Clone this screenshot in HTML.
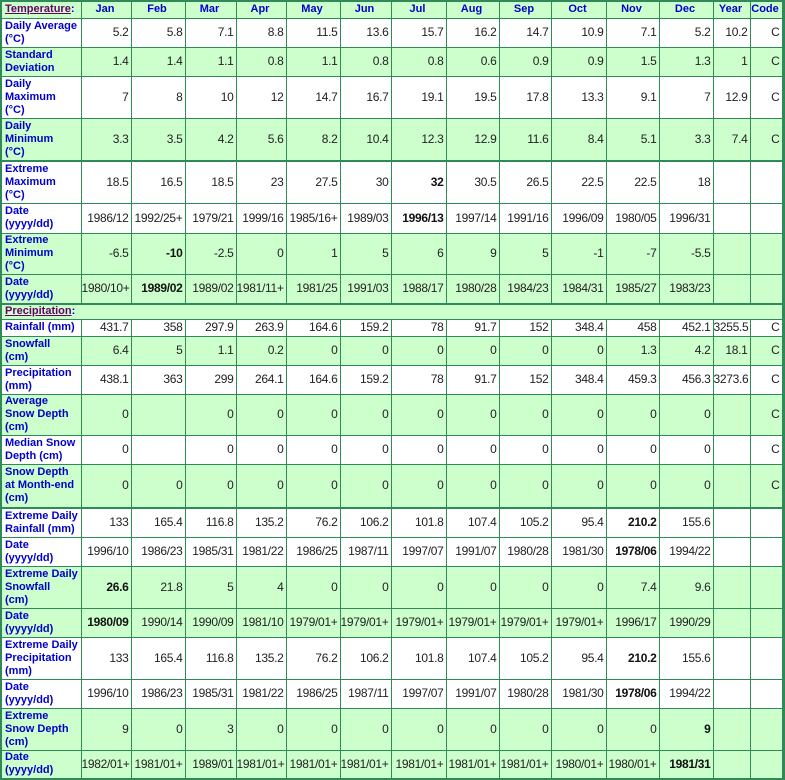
<!DOCTYPE html>
<html><head><meta charset="utf-8"><style>
body{margin:0;background:#fff;}
table{border-collapse:collapse;table-layout:fixed;width:782px;font-family:"Liberation Sans",sans-serif;font-size:12px;letter-spacing:-0.3px;border:2px solid #2e8b57;border-right:3px solid #2e8b57;}
td{border:1px solid #2e8b57;padding:0 2px 0 0;text-align:right;color:#222;overflow:hidden;white-space:nowrap;line-height:13px;}
td.l{text-align:left;color:#0000cc;font-weight:bold;font-size:11px;white-space:nowrap;line-height:13px;padding:0 0 0 3px;letter-spacing:0px;}
tr.g td{background:#ccffcc;}
tr.h td{text-align:center;color:#0000cc;font-weight:bold;font-size:11px;letter-spacing:0;background:#ccffcc;}
tr.h td.s{text-align:left;padding-left:3px;}
.s a{color:#660066;text-decoration:underline;}
tr.t td{border-top:2px solid #2e8b57;}
b{color:#111;}
</style></head><body>
<table>
<colgroup><col style="width:80px"><col style="width:50px"><col style="width:54px"><col style="width:51px"><col style="width:50px"><col style="width:54px"><col style="width:51px"><col style="width:55px"><col style="width:53px"><col style="width:52px"><col style="width:55px"><col style="width:53px"><col style="width:54px"><col style="width:37px"><col style="width:33px"></colgroup>
<tr class="h" style="height:17px"><td class="s"><a>Temperature</a>:</td><td>Jan</td><td>Feb</td><td>Mar</td><td>Apr</td><td>May</td><td>Jun</td><td>Jul</td><td>Aug</td><td>Sep</td><td>Oct</td><td>Nov</td><td>Dec</td><td>Year</td><td>Code</td></tr>
<tr style="height:29px"><td class="l">Daily Average<br>(°C)</td><td>5.2</td><td>5.8</td><td>7.1</td><td>8.8</td><td>11.5</td><td>13.6</td><td>15.7</td><td>16.2</td><td>14.7</td><td>10.9</td><td>7.1</td><td>5.2</td><td>10.2</td><td>C</td></tr>
<tr class="g" style="height:29px"><td class="l">Standard<br>Deviation</td><td>1.4</td><td>1.4</td><td>1.1</td><td>0.8</td><td>1.1</td><td>0.8</td><td>0.8</td><td>0.6</td><td>0.9</td><td>0.9</td><td>1.5</td><td>1.3</td><td>1</td><td>C</td></tr>
<tr style="height:42px"><td class="l">Daily<br>Maximum<br>(°C)</td><td>7</td><td>8</td><td>10</td><td>12</td><td>14.7</td><td>16.7</td><td>19.1</td><td>19.5</td><td>17.8</td><td>13.3</td><td>9.1</td><td>7</td><td>12.9</td><td>C</td></tr>
<tr class="g" style="height:43px"><td class="l">Daily<br>Minimum<br>(°C)</td><td>3.3</td><td>3.5</td><td>4.2</td><td>5.6</td><td>8.2</td><td>10.4</td><td>12.3</td><td>12.9</td><td>11.6</td><td>8.4</td><td>5.1</td><td>3.3</td><td>7.4</td><td>C</td></tr>
<tr class="t" style="height:42px"><td class="l">Extreme<br>Maximum<br>(°C)</td><td>18.5</td><td>16.5</td><td>18.5</td><td>23</td><td>27.5</td><td>30</td><td><b>32</b></td><td>30.5</td><td>26.5</td><td>22.5</td><td>22.5</td><td>18</td><td></td><td></td></tr>
<tr style="height:30px"><td class="l">Date<br>(yyyy/dd)</td><td>1986/12</td><td>1992/25+</td><td>1979/21</td><td>1999/16</td><td>1985/16+</td><td>1989/03</td><td><b>1996/13</b></td><td>1997/14</td><td>1991/16</td><td>1996/09</td><td>1980/05</td><td>1996/31</td><td></td><td></td></tr>
<tr class="g" style="height:41px"><td class="l">Extreme<br>Minimum<br>(°C)</td><td>-6.5</td><td><b>-10</b></td><td>-2.5</td><td>0</td><td>1</td><td>5</td><td>6</td><td>9</td><td>5</td><td>-1</td><td>-7</td><td>-5.5</td><td></td><td></td></tr>
<tr class="g" style="height:30px"><td class="l">Date<br>(yyyy/dd)</td><td>1980/10+</td><td><b>1989/02</b></td><td>1989/02</td><td>1981/11+</td><td>1981/25</td><td>1991/03</td><td>1988/17</td><td>1980/28</td><td>1984/23</td><td>1984/31</td><td>1985/27</td><td>1983/23</td><td></td><td></td></tr>
<tr class="h t" style="height:15px"><td class="s" colspan="15"><a>Precipitation</a>:</td></tr>
<tr style="height:17px"><td class="l">Rainfall (mm)</td><td>431.7</td><td>358</td><td>297.9</td><td>263.9</td><td>164.6</td><td>159.2</td><td>78</td><td>91.7</td><td>152</td><td>348.4</td><td>458</td><td>452.1</td><td>3255.5</td><td>C</td></tr>
<tr class="g" style="height:29px"><td class="l">Snowfall<br>(cm)</td><td>6.4</td><td>5</td><td>1.1</td><td>0.2</td><td>0</td><td>0</td><td>0</td><td>0</td><td>0</td><td>0</td><td>1.3</td><td>4.2</td><td>18.1</td><td>C</td></tr>
<tr style="height:29px"><td class="l">Precipitation<br>(mm)</td><td>438.1</td><td>363</td><td>299</td><td>264.1</td><td>164.6</td><td>159.2</td><td>78</td><td>91.7</td><td>152</td><td>348.4</td><td>459.3</td><td>456.3</td><td>3273.6</td><td>C</td></tr>
<tr class="g" style="height:41px"><td class="l">Average<br>Snow Depth<br>(cm)</td><td>0</td><td></td><td>0</td><td>0</td><td>0</td><td>0</td><td>0</td><td>0</td><td>0</td><td>0</td><td>0</td><td>0</td><td></td><td>C</td></tr>
<tr style="height:29px"><td class="l">Median Snow<br>Depth (cm)</td><td>0</td><td></td><td>0</td><td>0</td><td>0</td><td>0</td><td>0</td><td>0</td><td>0</td><td>0</td><td>0</td><td>0</td><td></td><td>C</td></tr>
<tr class="g" style="height:44px"><td class="l">Snow Depth<br>at Month-end<br>(cm)</td><td>0</td><td>0</td><td>0</td><td>0</td><td>0</td><td>0</td><td>0</td><td>0</td><td>0</td><td>0</td><td>0</td><td>0</td><td></td><td>C</td></tr>
<tr class="t" style="height:29px"><td class="l">Extreme Daily<br>Rainfall (mm)</td><td>133</td><td>165.4</td><td>116.8</td><td>135.2</td><td>76.2</td><td>106.2</td><td>101.8</td><td>107.4</td><td>105.2</td><td>95.4</td><td><b>210.2</b></td><td>155.6</td><td></td><td></td></tr>
<tr style="height:29px"><td class="l">Date<br>(yyyy/dd)</td><td>1996/10</td><td>1986/23</td><td>1985/31</td><td>1981/22</td><td>1986/25</td><td>1987/11</td><td>1997/07</td><td>1991/07</td><td>1980/28</td><td>1981/30</td><td><b>1978/06</b></td><td>1994/22</td><td></td><td></td></tr>
<tr class="g" style="height:42px"><td class="l">Extreme Daily<br>Snowfall<br>(cm)</td><td><b>26.6</b></td><td>21.8</td><td>5</td><td>4</td><td>0</td><td>0</td><td>0</td><td>0</td><td>0</td><td>0</td><td>7.4</td><td>9.6</td><td></td><td></td></tr>
<tr class="g" style="height:29px"><td class="l">Date<br>(yyyy/dd)</td><td><b>1980/09</b></td><td>1990/14</td><td>1990/09</td><td>1981/10</td><td>1979/01+</td><td>1979/01+</td><td>1979/01+</td><td>1979/01+</td><td>1979/01+</td><td>1979/01+</td><td>1996/17</td><td>1990/29</td><td></td><td></td></tr>
<tr style="height:42px"><td class="l">Extreme Daily<br>Precipitation<br>(mm)</td><td>133</td><td>165.4</td><td>116.8</td><td>135.2</td><td>76.2</td><td>106.2</td><td>101.8</td><td>107.4</td><td>105.2</td><td>95.4</td><td><b>210.2</b></td><td>155.6</td><td></td><td></td></tr>
<tr style="height:29px"><td class="l">Date<br>(yyyy/dd)</td><td>1996/10</td><td>1986/23</td><td>1985/31</td><td>1981/22</td><td>1986/25</td><td>1987/11</td><td>1997/07</td><td>1991/07</td><td>1980/28</td><td>1981/30</td><td><b>1978/06</b></td><td>1994/22</td><td></td><td></td></tr>
<tr class="g" style="height:42px"><td class="l">Extreme<br>Snow Depth<br>(cm)</td><td>9</td><td>0</td><td>3</td><td>0</td><td>0</td><td>0</td><td>0</td><td>0</td><td>0</td><td>0</td><td>0</td><td><b>9</b></td><td></td><td></td></tr>
<tr class="g" style="height:29px"><td class="l">Date<br>(yyyy/dd)</td><td>1982/01+</td><td>1981/01+</td><td>1989/01</td><td>1981/01+</td><td>1981/01+</td><td>1981/01+</td><td>1981/01+</td><td>1981/01+</td><td>1981/01+</td><td>1980/01+</td><td>1980/01+</td><td><b>1981/31</b></td><td></td><td></td></tr>
</table>
</body></html>
